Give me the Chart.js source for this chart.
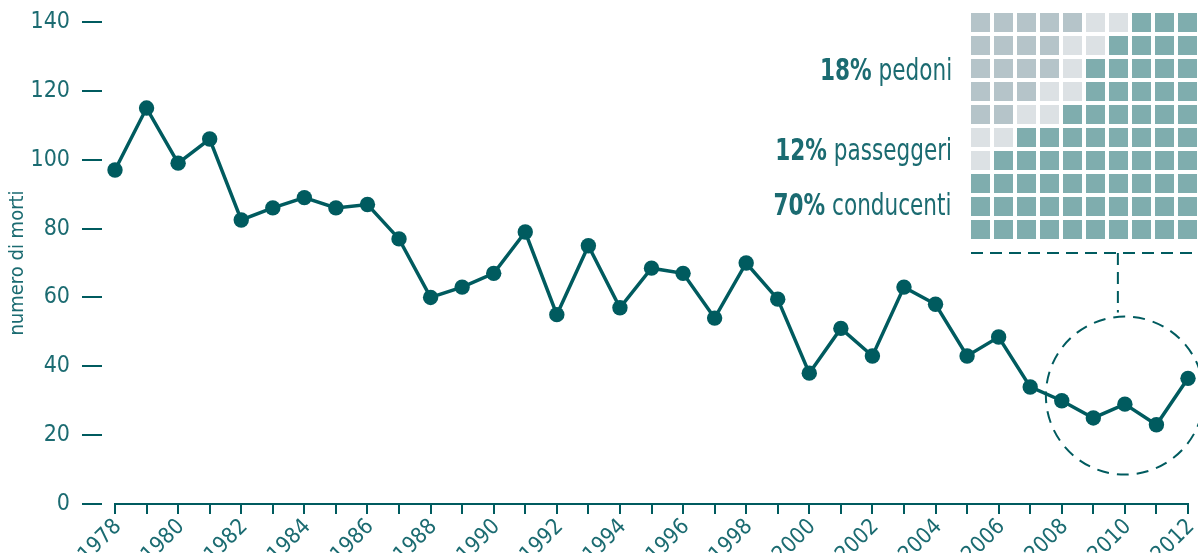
<!DOCTYPE html>
<html lang="it">
<head>
<meta charset="UTF-8">
<title>Numero di morti 1978-2012</title>
<script src="https://cdn.jsdelivr.net/npm/chart.js"></script>
<style>
  body { margin: 0; background: #fff; overflow: hidden; }
  #wrap { position: relative; width: 1198px; height: 553px; }
  #mainChart { position: absolute; left: 0; top: 0; }
  #waffleChart { position: absolute; left: 969px; top: 11px; }
  .share {
    position: absolute; right: 246px; white-space: nowrap;
    font-family: "Liberation Sans Narrow", "DejaVu Sans Condensed", "Roboto Condensed", sans-serif;
    font-size: 30px; line-height: 30px; color: #1b6b71; text-align: right;
    transform: scaleX(0.8); transform-origin: right center;
  }
  .share b { font-weight: bold; }
</style>
</head>
<body>
<div id="wrap">
  <canvas id="mainChart" width="1198" height="553"></canvas>
  <canvas id="waffleChart" width="230" height="230"></canvas>
  <div class="share" style="top:55px"><b>18%</b> pedoni</div>
  <div class="share" style="top:135px"><b>12%</b> passeggeri</div>
  <div class="share" style="top:190px"><b>70%</b> conducenti</div>
</div>
<script>
  const years = [1978, 1979, 1980, 1981, 1982, 1983, 1984, 1985, 1986, 1987,
                 1988, 1989, 1990, 1991, 1992, 1993, 1994, 1995, 1996, 1997,
                 1998, 1999, 2000, 2001, 2002, 2003, 2004, 2005, 2006, 2007,
                 2008, 2009, 2010, 2011, 2012];
  const deaths = [97, 115, 99, 106, 82.5, 86, 89, 86, 87, 77,
                  60, 63, 67, 79, 55, 75, 57, 68.5, 67, 54,
                  70, 59.5, 38, 51, 43, 63, 58, 43, 48.5, 34,
                  30, 25, 29, 23, 36.5];
  const yTicks = [0, 20, 40, 60, 80, 100, 120, 140];

  // waffle 10x10: p = pedoni, s = passeggeri, c = conducenti
  const waffleRows = [
    'pppppssccc',
    'ppppsscccc',
    'ppppsccccc',
    'pppssccccc',
    'ppsscccccc',
    'sscccccccc',
    'sccccccccc',
    'cccccccccc',
    'cccccccccc',
    'cccccccccc'
  ];
  const waffleColors = { p: '#b5c4c9', s: '#dce1e4', c: '#7fadae' };

  const FONT = '"Liberation Sans Narrow", "DejaVu Sans Condensed", "Roboto Condensed", sans-serif';
  const TEAL = '#005b5f';
  const TEXT = '#1b6b71';
  Chart.defaults.font.family = FONT;
  Chart.defaults.color = TEXT;

  // dashed circle around the last years, linked to the waffle above
  const focusPlugin = {
    id: 'focus',
    afterDatasetsDraw(chart) {
      const { ctx, scales } = chart;
      const cx = scales.x.getPixelForValue(2010);
      const cy = scales.y.getPixelForValue(31.5);
      const r = 79;
      ctx.save();
      ctx.strokeStyle = TEAL;
      ctx.lineWidth = 2;
      ctx.setLineDash([12, 8]);
      ctx.beginPath();
      ctx.arc(cx, cy, r, 0, Math.PI * 2);
      ctx.stroke();
      ctx.setLineDash([12, 7]);
      ctx.beginPath();
      ctx.moveTo(971, 253);
      ctx.lineTo(1198, 253);
      ctx.stroke();
      ctx.beginPath();
      ctx.moveTo(cx - 7, 253);
      ctx.lineTo(cx - 7, cy - r - 4);
      ctx.stroke();
      ctx.restore();
    }
  };

  new Chart(document.getElementById('mainChart'), {
    type: 'line',
    data: {
      datasets: [{
        data: years.map((y, i) => ({ x: y, y: deaths[i] })),
        borderColor: TEAL,
        borderWidth: 3.5,
        pointRadius: 7.7,
        pointBackgroundColor: TEAL,
        pointBorderWidth: 0,
        tension: 0,
        clip: false
      }]
    },
    options: {
      responsive: false,
      animation: false,
      layout: { autoPadding: false, padding: { top: 22, right: 10, left: 0, bottom: 0 } },
      plugins: { legend: { display: false }, tooltip: { enabled: false } },
      scales: {
        x: {
          type: 'linear',
          min: 1978,
          max: 2012,
          afterFit(scale) {
            scale.height = 49;
            scale.paddingLeft = 0;
            scale.paddingRight = 0;
          },
          border: { display: true, color: TEAL, width: 2 },
          grid: { drawOnChartArea: false, tickLength: 10, tickColor: TEAL, lineWidth: 2 },
          ticks: {
            stepSize: 1,
            autoSkip: false,
            minRotation: 45,
            maxRotation: 45,
            padding: 0,
            labelOffset: 3,
            font: { size: 22 },
            color: TEXT,
            callback: v => (v % 2 === 0 ? String(v) : '')
          }
        },
        y: {
          min: 0,
          max: 140,
          afterFit(scale) {
            scale.width = 115;
            scale.paddingTop = 0;
            scale.paddingBottom = 0;
          },
          afterBuildTicks(scale) { scale.ticks = yTicks.map(v => ({ value: v })); },
          border: { display: false },
          grid: {
            drawOnChartArea: false,
            tickLength: 33,
            tickColor: TEAL,
            lineWidth: 2,
            tickBorderDash: [20, 40]
          },
          ticks: { padding: 12, font: { size: 23 }, color: TEXT },
          title: {
            display: true,
            text: 'numero di morti',
            color: TEXT,
            font: { size: 20 },
            padding: { top: 6, bottom: 0 }
          }
        }
      }
    },
    plugins: [focusPlugin]
  });

  // waffle cells, one dataset per group
  const waffleSets = Object.keys(waffleColors).map(k => {
    const pts = [];
    waffleRows.forEach((row, r) => {
      row.split('').forEach((cell, c) => { if (cell === k) pts.push({ x: c, y: r }); });
    });
    return {
      data: pts,
      pointStyle: 'rect',
      pointRadius: 19 / Math.SQRT2,
      pointBackgroundColor: waffleColors[k],
      pointBorderWidth: 0,
      clip: false
    };
  });

  new Chart(document.getElementById('waffleChart'), {
    type: 'scatter',
    data: { datasets: waffleSets },
    options: {
      responsive: false,
      animation: false,
      layout: { autoPadding: false, padding: 0 },
      plugins: { legend: { display: false }, tooltip: { enabled: false } },
      scales: {
        x: { display: false, min: -0.5, max: 9.5 },
        y: { display: false, min: -0.5, max: 9.5, reverse: true }
      }
    }
  });
</script>
</body>
</html>
